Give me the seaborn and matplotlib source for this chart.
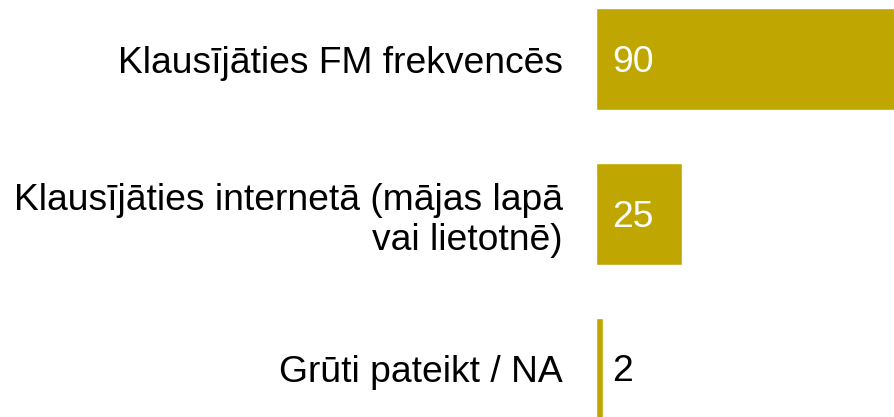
import pandas as pd
import matplotlib
matplotlib.use("Agg")
import matplotlib.pyplot as plt
import seaborn as sns

# Data
categories = [
    "Klausījāties FM frekvencēs",
    "Klausījāties internetā (mājas lapā\nvai lietotnē)",
    "Grūti pateikt / NA",
]
values = [90, 25, 2]
label_colors = ["white", "white", "black"]

df = pd.DataFrame({"category": categories, "value": values})

sns.set_theme(style="white")
plt.rcParams["font.family"] = ["Liberation Sans", "DejaVu Sans"]

fig = plt.figure(figsize=(8.94, 4.17), dpi=100)
ax = fig.add_axes([596 / 894, 0, 298 / 894, 1])

sns.barplot(data=df, x="value", y="category", color="#BFA600",
            saturation=1, width=0.66, ax=ax, orient="h")

ax.set_xlim(0, 86.4)
ax.set_ylim(2.31, -0.381)
ax.set_xlabel("")
ax.set_ylabel("")
ax.set_xticks([])
ax.tick_params(axis="y", length=0, pad=24, labelsize=26.8)
for lbl in ax.get_yticklabels():
    lbl.set_horizontalalignment("right")
    lbl.set_color("black")
for s in ax.spines.values():
    s.set_visible(False)

# value labels start a fixed distance right of the bar base
for i, (v, c) in enumerate(zip(values, label_colors)):
    ax.annotate(str(v), xy=(0, i), xytext=(16, -3), textcoords="offset pixels",
                ha="left", va="center", fontsize=26.8, color=c)

fig.savefig("out.png", dpi=100)
